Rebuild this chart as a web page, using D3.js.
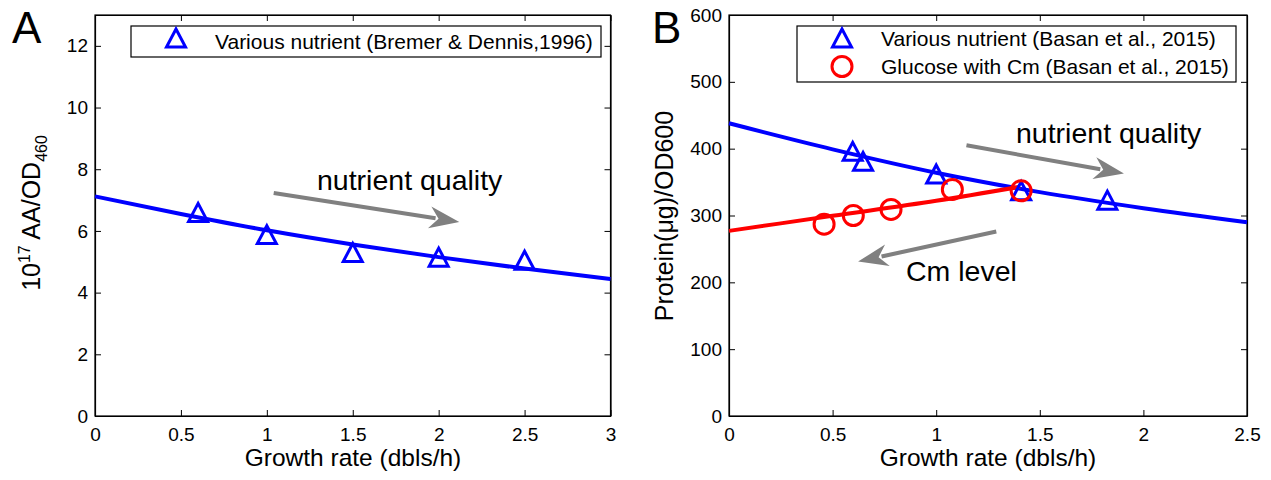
<!DOCTYPE html>
<html>
<head>
<meta charset="utf-8">
<title>Protein per OD vs growth rate</title>
<script src="https://cdn.jsdelivr.net/npm/d3@7/dist/d3.min.js"></script>
<style>
body { margin: 0; background: #fff; }
svg text { font-family: "Liberation Sans", Arial, Helvetica, sans-serif; fill: #000; }
</style>
</head>
<body>
<svg id="fig" width="1271" height="480"></svg>
<script>
// ---- panel A data (Bremer & Dennis) ----
var aX = [0.6, 1.0, 1.5, 2.0, 2.5];
var aY = [6.6, 5.88, 5.3, 5.15, 5.05];
var aFitX = [0, 0.5, 1.0, 1.5, 2.0, 2.5, 3.0];
var aFitY = [7.12, 6.55, 6.02, 5.56, 5.15, 4.78, 4.44];
var aXTicks = [0, 0.5, 1, 1.5, 2, 2.5, 3];
var aYTicks = [0, 2, 4, 6, 8, 10, 12];

// ---- panel B data (Basan et al.) ----
var bNutX = [0.597, 0.647, 1.0, 1.41, 1.826];
var bNutY = [396, 381, 362, 337, 323];
var bCmX = [0.459, 0.6, 0.782, 1.078, 1.41];
var bCmY = [287, 300, 309, 339, 337];
var bFitNutX = [0, 0.5, 1.0, 1.5, 2.0, 2.5];
var bFitNutY = [438, 399, 364, 335, 311, 290];
var bFitCmX = [0, 0.5, 1.0, 1.405];
var bFitCmY = [277, 299.5, 322, 343];
var bXTicks = [0, 0.5, 1, 1.5, 2, 2.5];
var bYTicks = [0, 100, 200, 300, 400, 500, 600];

var svg = d3.select("#fig");
var GRAY = "#808080";

function zip(xs, ys) { return xs.map(function(x, i) { return [x, ys[i]]; }); }

// one matlab-style axes box, returns scales and group
function makeAxes(left, right, top, bottom, xdom, ydom, xt, yt) {
	var x = d3.scaleLinear().domain(xdom).range([left, right]);
	var y = d3.scaleLinear().domain(ydom).range([bottom, top]);
	var g = svg.append("g");
	var fmt = function(d) { return String(d); };
	g.append("g").attr("transform", "translate(0," + bottom + ")")
		.call(d3.axisBottom(x).tickValues(xt).tickFormat(fmt).tickSizeInner(-6).tickSizeOuter(0).tickPadding(12));
	g.append("g").attr("transform", "translate(0," + top + ")")
		.call(d3.axisTop(x).tickValues(xt).tickFormat("").tickSizeInner(-6).tickSizeOuter(0));
	g.append("g").attr("transform", "translate(" + left + ",0)")
		.call(d3.axisLeft(y).tickValues(yt).tickFormat(fmt).tickSizeInner(-6).tickSizeOuter(0).tickPadding(7));
	g.append("g").attr("transform", "translate(" + right + ",0)")
		.call(d3.axisRight(y).tickValues(yt).tickFormat("").tickSizeInner(-6).tickSizeOuter(0));
	g.selectAll(".tick text").attr("font-size", 19).style("font-family", "Liberation Sans, Arial, sans-serif");
	g.selectAll(".domain").attr("stroke", "#000").attr("stroke-width", 1.2);
	g.selectAll(".tick line").attr("stroke", "#000").attr("stroke-width", 1);
	g.append("rect").attr("x", left).attr("y", top).attr("width", right - left).attr("height", bottom - top)
		.attr("fill", "none").attr("stroke", "#000").attr("stroke-width", 1.2);
	return { x: x, y: y, g: g };
}

var tri = "M0,-9 L9.5,9 L-9.5,9 Z";

function triangles(ax, pts) {
	ax.g.selectAll(null).data(pts).enter().append("path")
		.attr("d", tri)
		.attr("transform", function(d) { return "translate(" + ax.x(d[0]) + "," + ax.y(d[1]) + ")"; })
		.attr("fill", "none").attr("stroke", "#0000ff").attr("stroke-width", 3);
}
function circles(ax, pts) {
	ax.g.selectAll(null).data(pts).enter().append("circle")
		.attr("cx", function(d) { return ax.x(d[0]); })
		.attr("cy", function(d) { return ax.y(d[1]); })
		.attr("r", 10).attr("fill", "none").attr("stroke", "#ff0000").attr("stroke-width", 3);
}
function fitLine(ax, pts, color) {
	var line = d3.line().x(function(d) { return ax.x(d[0]); }).y(function(d) { return ax.y(d[1]); })
		.curve(d3.curveMonotoneX);
	ax.g.append("path").attr("d", line(pts)).attr("fill", "none").attr("stroke", color).attr("stroke-width", 4);
}
function arrow(ax, p0, p1) {
	var x0 = ax.x(p0[0]), y0 = ax.y(p0[1]), x1 = ax.x(p1[0]), y1 = ax.y(p1[1]);
	var ang = Math.atan2(y1 - y0, x1 - x0), hl = 30, hw = 11;
	var c = Math.cos(ang), s = Math.sin(ang);
	var bx = x1 - hl * c, by = y1 - hl * s;
	ax.g.append("line").attr("x1", x0).attr("y1", y0).attr("x2", bx + 6 * c).attr("y2", by + 6 * s)
		.attr("stroke", GRAY).attr("stroke-width", 4);
	ax.g.append("path").attr("fill", GRAY)
		.attr("d", "M" + x1 + "," + y1 + " L" + (bx - hw * s) + "," + (by + hw * c) +
			" L" + (bx + 9 * c) + "," + (by + 9 * s) +
			" L" + (bx + hw * s) + "," + (by - hw * c) + " Z");
}

// ================= panel A =================
var A = makeAxes(95, 610.5, 15, 416, [0, 3], [0, 13], aXTicks, aYTicks);
fitLine(A, zip(aFitX, aFitY), "#0000ff");
triangles(A, zip(aX, aY));
arrow(A, [1.04, 7.23], [2.12, 6.29]);
A.g.append("text").attr("x", 317).attr("y", 190).attr("font-size", 28.5).text("nutrient quality");

// legend A
A.g.append("rect").attr("x", 131).attr("y", 26).attr("width", 470).attr("height", 31)
	.attr("fill", "#fff").attr("stroke", "#000").attr("stroke-width", 1.2);
A.g.append("path").attr("d", tri).attr("transform", "translate(176,38)")
	.attr("fill", "none").attr("stroke", "#0000ff").attr("stroke-width", 3);
A.g.append("text").attr("x", 215).attr("y", 48.5).attr("font-size", 21)
	.text("Various nutrient (Bremer & Dennis,1996)");

// axis labels A
svg.append("text").attr("x", 353).attr("y", 466).attr("text-anchor", "middle").attr("font-size", 24.5)
	.text("Growth rate (dbls/h)");
var ylA = svg.append("text").attr("transform", "translate(40,213) rotate(-90)").attr("text-anchor", "middle")
	.attr("font-size", 25);
ylA.append("tspan").text("10");
ylA.append("tspan").attr("font-size", 16).attr("dy", -10).text("17");
ylA.append("tspan").attr("dy", 10).text(" AA/OD");
ylA.append("tspan").attr("font-size", 16).attr("dy", 7).text("460");
svg.append("text").attr("x", 12).attr("y", 43).attr("font-size", 44).text("A");

// ================= panel B =================
var B = makeAxes(729, 1247, 15, 416, [0, 2.5], [0, 600], bXTicks, bYTicks);
fitLine(B, zip(bFitNutX, bFitNutY), "#0000ff");
fitLine(B, zip(bFitCmX, bFitCmY), "#ff0000");
triangles(B, zip(bNutX, bNutY));
circles(B, zip(bCmX, bCmY));
arrow(B, [1.146, 405], [1.906, 363]);
arrow(B, [1.290, 276], [0.623, 231]);
B.g.append("text").attr("x", 1016).attr("y", 143).attr("font-size", 28.5).text("nutrient quality");
B.g.append("text").attr("x", 906).attr("y", 281).attr("font-size", 28.5).text("Cm level");

// legend B
B.g.append("rect").attr("x", 797).attr("y", 26).attr("width", 439).attr("height", 56)
	.attr("fill", "#fff").attr("stroke", "#000").attr("stroke-width", 1.2);
B.g.append("path").attr("d", tri).attr("transform", "translate(842,38)")
	.attr("fill", "none").attr("stroke", "#0000ff").attr("stroke-width", 3);
B.g.append("circle").attr("cx", 842).attr("cy", 66.5).attr("r", 10)
	.attr("fill", "none").attr("stroke", "#ff0000").attr("stroke-width", 3);
B.g.append("text").attr("x", 881).attr("y", 46).attr("font-size", 21).text("Various nutrient (Basan et al., 2015)");
B.g.append("text").attr("x", 881).attr("y", 74).attr("font-size", 21).text("Glucose with Cm (Basan et al., 2015)");

svg.append("text").attr("x", 988).attr("y", 466).attr("text-anchor", "middle").attr("font-size", 24.5)
	.text("Growth rate (dbls/h)");
svg.append("text").attr("transform", "translate(673,216) rotate(-90)").attr("text-anchor", "middle")
	.attr("font-size", 25).text("Protein(\u03bcg)/OD600");
svg.append("text").attr("x", 652).attr("y", 43).attr("font-size", 44).text("B");
</script>
</body>
</html>
